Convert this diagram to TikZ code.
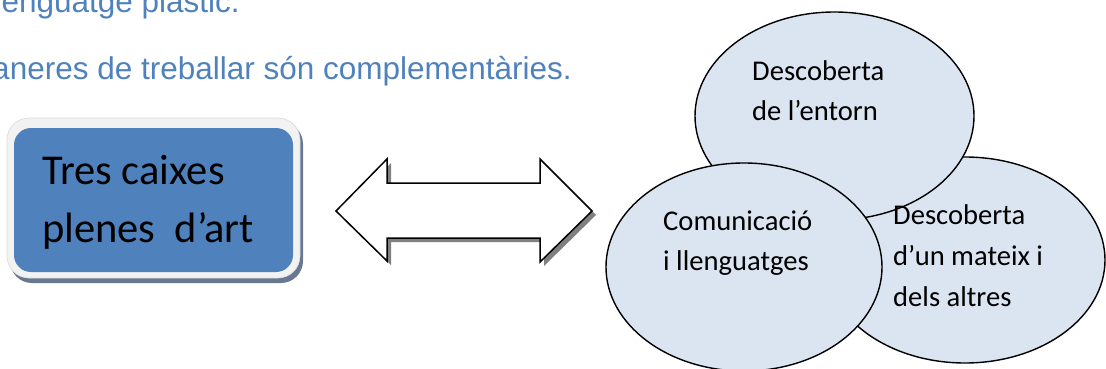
\documentclass[tikz,border=0pt]{standalone}
\usepackage{fontspec}
\setmainfont{Carlito}
\newfontfamily\arialfont{Liberation Sans}
\usetikzlibrary{shapes.geometric}
\definecolor{txtblue}{RGB}{79,129,189}
\definecolor{boxblue}{RGB}{79,129,189}
\definecolor{ellfill}{RGB}{219,229,241}
\definecolor{boxborder}{RGB}{242,242,242}
\definecolor{boxshadow}{RGB}{105,120,145}
\begin{document}
\begin{tikzpicture}[x=1pt,y=-1pt,
  bluetext/.style={anchor=base east, inner sep=0pt, text=txtblue, font=\arialfont\fontsize{31.5}{38}\selectfont},
  boxtext/.style={anchor=base west, inner sep=0pt, font=\fontsize{42.5}{50}\selectfont},
  elltext/.style={anchor=base west, inner sep=0pt, font=\fontsize{28.6}{34}\selectfont},
  ell/.style={ellipse, draw=black, line width=1.4pt, fill=ellfill, inner sep=0pt},
  rrect/.style={rectangle, inner sep=0pt, rounded corners=#1},
  arrowshape/.style={draw=black, line width=1.5pt, fill=white, line join=miter},
  arrowshadow/.style={fill=black!50}
]
\useasboundingbox (0,0) rectangle (1106,369);

% blue text lines
\node[bluetext] (l1) at (240,13) {llenguatge plàstic.};
\node[bluetext] (l2) at (572,79) {maneres de treballar són complementàries.};

% box
\node[rrect=22pt, fill=boxshadow, minimum width=293pt, minimum height=161pt] (bshadow) at (156.5,202.5) {};
\node[rrect=22pt, fill=boxborder, draw=black!15, line width=0.6pt, minimum width=293pt, minimum height=160pt] (bouter) at (153.5,198) {};
\node[rrect=17pt, fill=boxblue, minimum width=279pt, minimum height=144pt] (binner) at (153.5,200) {};
\node[boxtext] (t1) at (42,184) {Tres caixes};
\node[boxtext] (t2) at (42,242) {plenes~~d’art};

% double arrow
\begin{scope}[shift={(4,4)}]
\fill[arrowshadow] (336,211) -- (387,159) -- (387,183) -- (540,183) -- (540,159) -- (592,211) -- (540,262) -- (540,238) -- (387,238) -- (387,261) -- cycle;
\end{scope}
\draw[arrowshape] (336,211) -- (387,159) -- (387,183) -- (540,183) -- (540,159) -- (592,211) -- (540,262) -- (540,238) -- (387,238) -- (387,261) -- cycle;

% ellipses
\node[ell, minimum width=280pt, minimum height=206pt] (eright) at (965,260) {};
\node[ell, minimum width=279pt, minimum height=208pt] (etop) at (834.5,116) {};
\node[ell, minimum width=276pt, minimum height=208pt] (eleft) at (744,267) {};

% ellipse texts
\node[elltext] (a1) at (752,81) {Descoberta};
\node[elltext] (a2) at (752,121) {de l’entorn};
\node[elltext] (b1) at (663,230) {Comunicació};
\node[elltext] (b2) at (663,270) {i llenguatges};
\node[elltext] (c1) at (893,224) {Descoberta};
\node[elltext] (c2) at (893,265) {d’un mateix i};
\node[elltext] (c3) at (893,306) {dels altres};
\end{tikzpicture}
\end{document}
